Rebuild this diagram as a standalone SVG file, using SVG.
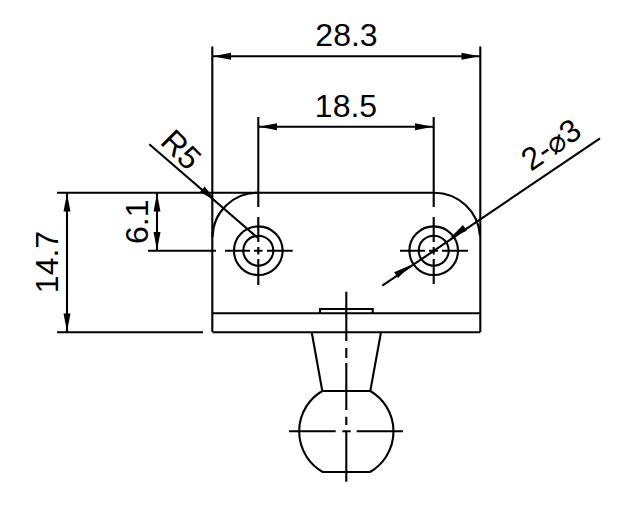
<svg xmlns="http://www.w3.org/2000/svg" width="623" height="524" viewBox="0 0 623 524">
<style>
.l{fill:none;stroke:#000;stroke-width:2.1}
.a{fill:#000;stroke:none}
text{font-family:"Liberation Sans",Arial,sans-serif;font-size:32px;fill:#000}
</style>
<defs>
<polygon id="ah" class="a" points="0,0 -18,-3.5 -18,3.5"/>
</defs>
<rect width="623" height="524" fill="#fff"/>
<g id="part">
<path class="l" d="M212.500 237A45 45 0 0 1 258 192.700H433.700A46 46 0 0 1 480 236"/>
<path class="l" d="M212.500 313.300H480.300M212.500 332.300H480.300M320 313V309H372.700V313"/>
<path class="l" d="M311.700 332.300L322.300 391H370.300L381 332.300"/>
<path class="l" d="M322.300 391A46.800 46.800 0 0 0 322.700 472H370A46.800 46.800 0 0 0 370.300 391"/>
</g>
<g id="hole-left">
<circle class="l" cx="258.300" cy="250.700" r="24.300"/>
<circle class="l" cx="258.300" cy="250.700" r="15"/>
<path class="l" d="M225 250.700H250M254 250.700H262.500M267 250.700H292.700M258.300 217V242M258.300 247V254.500M258.300 259V285"/>
</g>
<g id="hole-right">
<circle class="l" cx="433.700" cy="250.700" r="24.300"/>
<circle class="l" cx="433.700" cy="250.700" r="15"/>
<path class="l" d="M400 250.700H425M429 250.700H438M442 250.700H468M433.700 217V242M433.700 247V254.500M433.700 259V284"/>
</g>
<g id="centerlines">
<path class="l" d="M346.300 291.700V341M346.300 348V358M346.300 363V410M346.300 416.700V425M346.300 431V481.700"/>
<path class="l" d="M289 431.300H335.700M342.300 431.300H350.700M356.700 431.300H403"/>
</g>
<g id="connectors">
<path class="l" d="M212.300 46.600V332M480.300 46.600V332M258.300 117V207M433.700 117V207"/>
<path class="l" d="M57 192.700H258M57 332.300H203M148 250.700H216"/>
<path class="l" d="M213 56.300H480M259 126.700H433M67 193V332M157 193V250.500"/>
<path class="l" d="M149.300 144.300L258 238"/>
<path class="l" d="M600 138.300L382.300 285.700"/>
<use href="#ah" transform="translate(213 56.300) rotate(180)"/>
<use href="#ah" transform="translate(479.500 56.300)"/>
<use href="#ah" transform="translate(259 126.700) rotate(180)"/>
<use href="#ah" transform="translate(433 126.700)"/>
<use href="#ah" transform="translate(67 193.500) rotate(-90)"/>
<use href="#ah" transform="translate(67 331.500) rotate(90)"/>
<use href="#ah" transform="translate(157 193.500) rotate(-90)"/>
<use href="#ah" transform="translate(157 250) rotate(90)"/>
<use href="#ah" transform="translate(216 201) rotate(40.800)"/>
<use href="#ah" transform="translate(411 265) rotate(-34)"/>
<use href="#ah" transform="translate(450 238) rotate(146)"/>
</g>
<g id="labels">
<text x="346.500" y="46" text-anchor="middle">28.3</text>
<text x="346" y="116.700" text-anchor="middle">18.5</text>
<text transform="translate(58 262) rotate(-90)" text-anchor="middle">14.7</text>
<text transform="translate(148.300 221.700) rotate(-90)" text-anchor="middle">6.1</text>
<text transform="translate(159 143) rotate(45)">R5</text>
<text transform="translate(531 172) rotate(-35)">2-<tspan font-family="DejaVu Sans" font-size="30">⌀</tspan>3</text>
</g>
</svg>
